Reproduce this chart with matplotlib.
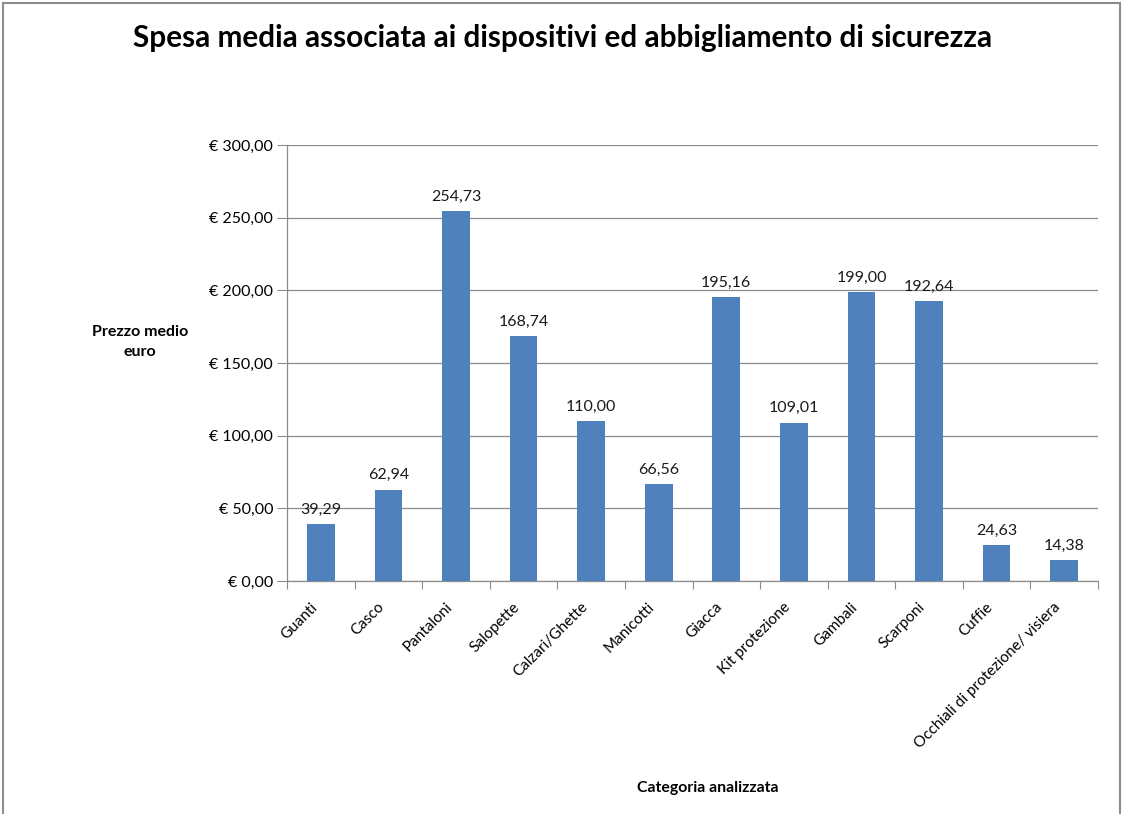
import matplotlib
matplotlib.use("Agg")
import matplotlib.pyplot as plt
from matplotlib.patches import Rectangle
from matplotlib.ticker import FuncFormatter, MultipleLocator
from matplotlib.transforms import ScaledTranslation

categories = ["Guanti", "Casco", "Pantaloni", "Salopette", "Calzari/Ghette",
              "Manicotti", "Giacca", "Kit protezione", "Gambali", "Scarponi",
              "Cuffie", "Occhiali di protezione/ visiera"]
prezzi = [39.29, 62.94, 254.73, 168.74, 110.00, 66.56, 195.16, 109.01,
          199.00, 192.64, 24.63, 14.38]

title = "Spesa media associata ai dispositivi ed abbigliamento di sicurezza"
ylabel = "Prezzo medio\neuro"
xlabel = "Categoria analizzata"

plt.rcParams["font.family"] = ["Lato", "DejaVu Sans"]

W, H = 1123, 814
fig = plt.figure(figsize=(W / 100, H / 100), dpi=100)
fig.patch.set_facecolor("white")

# outer frame of the chart area
fig.add_artist(Rectangle((3 / W, -0.05), (1120 - 3) / W, 1.05 - 3 / H,
                         transform=fig.transFigure, fill=False,
                         edgecolor="#8c8c8c", linewidth=1.5))

left, right = 287 / W, 1098 / W
bottom, top = 1 - 581 / H, 1 - 145 / H
ax = fig.add_axes([left, bottom, right - left, top - bottom])

x = range(len(categories))
ax.bar(x, prezzi, width=0.41, color="#4f81bd", zorder=3)

for xi, v in zip(x, prezzi):
    ax.text(xi, v + 5, f"{v:.2f}".replace(".", ","), ha="center", va="bottom",
            fontsize=11.5, color="#1a1a1a")

ax.set_xlim(-0.5, len(categories) - 0.5)
ax.set_ylim(0, 300)
ax.yaxis.set_major_locator(MultipleLocator(50))
ax.yaxis.set_major_formatter(FuncFormatter(
    lambda v, p: f"€ {v:,.2f}".replace(",", "X").replace(".", ",").replace("X", ".")))
ax.grid(axis="y", color="#8c8c8c", linewidth=0.9, zorder=0)

# tick marks sit on the category boundaries
ax.set_xticks([i + 0.5 for i in range(-1, len(categories))])
ax.set_xticklabels([])
ax.tick_params(axis="x", length=6, color="#8c8c8c", direction="out")
ax.tick_params(axis="y", length=7, color="#8c8c8c", labelsize=11.5, pad=3)

# rotated category names under each bar
label_tr = ax.get_xaxis_transform() + ScaledTranslation(-6 / 100, -24 / 100,
                                                        fig.dpi_scale_trans)
for xi, name in zip(x, categories):
    ax.text(xi, 0, name, transform=label_tr, rotation=45, ha="right",
            va="center", rotation_mode="anchor", fontsize=11, clip_on=False)

for side in ["top", "right"]:
    ax.spines[side].set_visible(False)
for side in ["left", "bottom"]:
    ax.spines[side].set_color("#8c8c8c")
    ax.spines[side].set_linewidth(0.9)

fig.text(563 / W, 1 - 38 / H, title, ha="center", va="center",
         fontsize=21.4, fontweight="bold")
fig.text(140 / W, 1 - 342 / H, ylabel, ha="center", va="center",
         fontsize=11.5, fontweight="bold", linespacing=1.5)
fig.text(708 / W, 1 - 788 / H, xlabel, ha="center", va="center",
         fontsize=11.4, fontweight="bold")

fig.savefig("out.png", dpi=100, facecolor="white")
